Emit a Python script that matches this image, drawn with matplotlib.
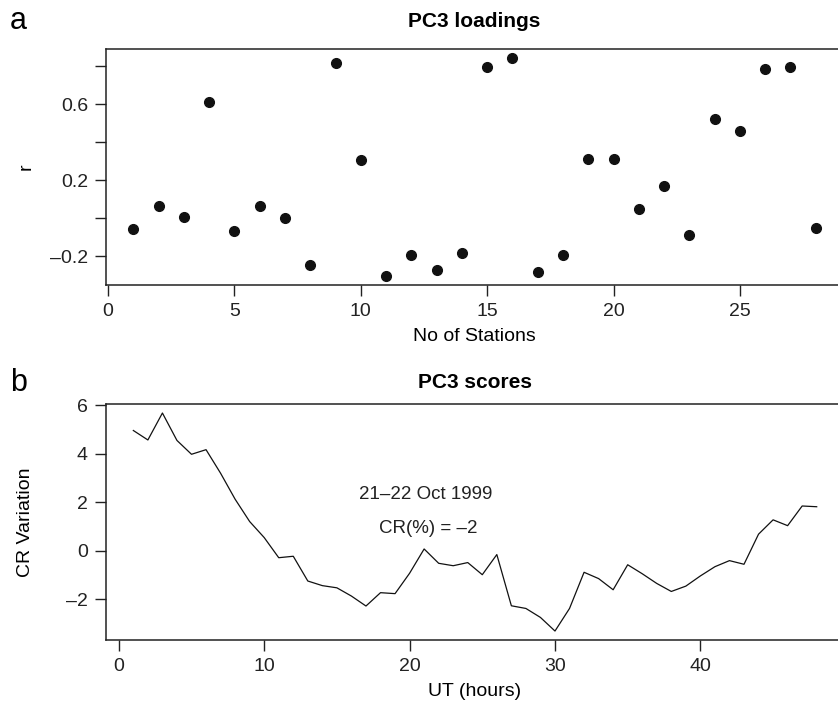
import numpy as np
from matplotlib import pyplot as plt

plt.rcParams['font.family'] = ['Liberation Sans', 'DejaVu Sans']
plt.rcParams['font.size'] = 14

# PC3 loadings per station
stations = list(range(1, 29))
loadings = [-0.058, 0.065, 0.007, 0.612, -0.068, 0.065, 0.002, -0.246, 0.819, 0.305,
            -0.304, -0.192, -0.272, -0.181, 0.795, 0.844, -0.284, -0.193, 0.314, 0.312,
            0.049, 0.172, -0.088, 0.523, 0.459, 0.786, 0.798, -0.051]

# PC3 scores per hour (UT)
hours = list(range(1, 49))
scores = [4.95, 4.56, 5.67, 4.54, 3.97, 4.16, 3.19, 2.12, 1.20, 0.54,
          -0.29, -0.23, -1.25, -1.44, -1.53, -1.87, -2.28, -1.73, -1.77, -0.93,
          0.07, -0.52, -0.62, -0.49, -0.99, -0.16, -2.27, -2.38, -2.75, -3.31,
          -2.38, -0.89, -1.15, -1.61, -0.58, -0.95, -1.35, -1.68, -1.46, -1.04,
          -0.66, -0.41, -0.56, 0.68, 1.27, 1.03, 1.84, 1.81]

top_yticks = [-0.2, 0.0, 0.2, 0.4, 0.6, 0.8]
top_ylabels = ['\u20130.2', '', '0.2', '', '0.6', '']
top_xticks = [0, 5, 10, 15, 20, 25]
bot_yticks = [-2, 0, 2, 4, 6]
bot_ylabels = ['\u20132', '0', '2', '4', '6']
bot_xticks = [0, 10, 20, 30, 40]

fig = plt.figure(figsize=(8.38, 7.12), dpi=100)


def style(ax):
    ax.spines['right'].set_visible(False)
    for s in ['left', 'top', 'bottom']:
        ax.spines[s].set_linewidth(1.1)
        ax.spines[s].set_color('#222222')
    ax.tick_params(direction='out', length=8, width=1, pad=5, labelsize=14,
                   colors='#222222')


# panel a
ax1 = fig.add_axes([0.1265, 0.5997, 0.8795, 0.3315])
ax1.plot(stations, loadings, 'o', color='#111111', markersize=7)
ax1.set_xlim(-0.08, 29.08)
ax1.set_ylim(-0.351, 0.891)
ax1.set_yticks(top_yticks)
ax1.set_yticklabels(top_ylabels)
ax1.set_xticks(top_xticks)
ax1.set_xlabel('No of Stations', fontsize=14, labelpad=6)
ax1.set_ylabel('r', fontsize=14)
ax1.yaxis.set_label_coords(-0.097, 0.5)
ax1.set_title('PC3 loadings', fontsize=15, fontweight='bold', pad=16)
style(ax1)
fig.text(0.012, 0.992, 'a', fontsize=22, va='top', ha='left')

# panel b
ax2 = fig.add_axes([0.1265, 0.1011, 0.8807, 0.3311])
ax2.plot(hours, scores, '-', color='#111111', linewidth=0.9)
ax2.set_xlim(-0.88, 49.88)
ax2.set_ylim(-3.68, 6.03)
ax2.set_yticks(bot_yticks)
ax2.set_yticklabels(bot_ylabels)
ax2.set_xticks(bot_xticks)
ax2.set_xlabel('UT (hours)', fontsize=14, labelpad=6)
ax2.set_ylabel('CR Variation', fontsize=14)
ax2.yaxis.set_label_coords(-0.097, 0.5)
ax2.set_title('PC3 scores', fontsize=15, fontweight='bold', pad=12)
ax2.text(21.1, 2.3, '21\u201322 Oct 1999', ha='center', va='center', fontsize=13.5,
         color='#222222')
ax2.text(21.3, 0.9, 'CR(%) = \u20132', ha='center', va='center', fontsize=13.5,
         color='#222222')
style(ax2)
fig.text(0.012, 0.483, 'b', fontsize=22, va='top', ha='left')

fig.savefig('out.png', dpi=100)
